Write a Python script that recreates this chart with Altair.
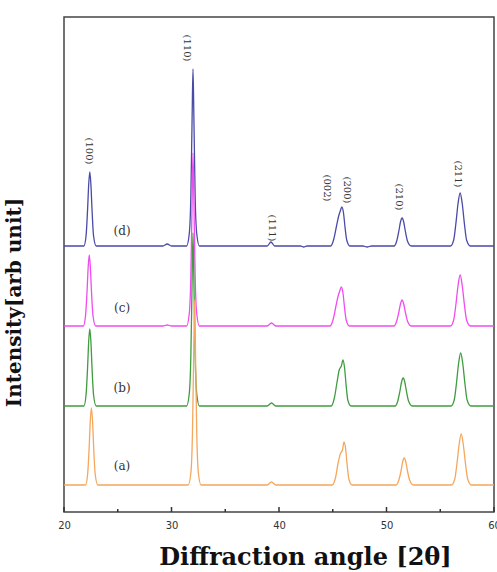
import altair as alt
import pandas as pd

# ---- data (2-theta, intensity above each baseline) ----
d_x = [20.0, 21.85, 22.05, 22.2, 22.3, 22.4, 22.5, 22.6, 22.75, 23.0, 29.2, 29.6, 30.0, 31.4, 31.65, 31.8, 31.92, 32.0, 32.08, 32.2, 32.35, 32.6, 38.9, 39.25, 39.6, 42.0, 42.3, 42.6, 44.8, 45.1, 45.35, 45.55, 45.7, 45.85, 46.0, 46.15, 46.3, 46.6, 47.8, 48.2, 48.6, 50.7, 50.95, 51.15, 51.3, 51.45, 51.6, 51.75, 51.95, 52.3, 55.95, 56.25, 56.45, 56.65, 56.85, 57.05, 57.25, 57.45, 57.8, 60.0]
d_y = [0, 0, 10, 38, 62, 74, 62, 38, 10, 0, 0, 2, 0, 0, 12, 50, 130, 177, 130, 50, 12, 0, 0, 4, 0, 0, -1, 0, 0, 7, 20, 30, 35, 39, 33, 18, 6, 0, 0, -1, 0, 0, 5, 15, 24, 28, 24, 15, 5, 0, 0, 6, 22, 42, 53, 42, 22, 6, 0, 0]

c_x = [20.0, 21.8, 22.0, 22.15, 22.25, 22.35, 22.45, 22.55, 22.7, 22.95, 29.2, 29.6, 30.0, 31.4, 31.65, 31.8, 31.92, 32.0, 32.08, 32.2, 32.35, 32.6, 38.9, 39.3, 39.7, 44.75, 45.05, 45.3, 45.5, 45.65, 45.8, 45.95, 46.1, 46.25, 46.55, 50.7, 50.95, 51.15, 51.3, 51.45, 51.6, 51.75, 51.95, 52.3, 55.95, 56.25, 56.45, 56.65, 56.85, 57.05, 57.25, 57.45, 57.8, 60.0]
c_y = [0, 0, 10, 36, 59, 71, 59, 36, 10, 0, 0, 1, 0, 0, 12, 50, 127, 173, 127, 50, 12, 0, 0, 3, 0, 0, 7, 20, 30, 35, 39, 33, 18, 6, 0, 0, 5, 14, 22, 26, 22, 14, 5, 0, 0, 6, 21, 40, 51, 40, 21, 6, 0, 0]

b_x = [20.0, 21.85, 22.05, 22.2, 22.3, 22.4, 22.5, 22.6, 22.75, 23.0, 31.4, 31.65, 31.8, 31.92, 32.0, 32.08, 32.2, 32.35, 32.6, 38.9, 39.3, 39.7, 44.85, 45.15, 45.4, 45.6, 45.8, 45.95, 46.1, 46.25, 46.4, 46.7, 50.8, 51.05, 51.25, 51.4, 51.55, 51.7, 51.85, 52.05, 52.4, 56.0, 56.3, 56.5, 56.7, 56.9, 57.1, 57.3, 57.5, 57.85, 60.0]
b_y = [0, 0, 11, 40, 65, 77, 65, 40, 11, 0, 0, 12, 50, 127, 173, 127, 50, 12, 0, 0, 3, 0, 0, 8, 24, 36, 40, 46, 38, 20, 6, 0, 0, 5, 15, 24, 28, 24, 15, 5, 0, 0, 6, 22, 42, 53, 42, 22, 6, 0, 0]

a_x = [20.0, 22.0, 22.2, 22.35, 22.45, 22.55, 22.65, 22.75, 22.9, 23.15, 31.55, 31.8, 31.95, 32.07, 32.15, 32.23, 32.35, 32.5, 32.75, 38.9, 39.3, 39.7, 44.95, 45.25, 45.5, 45.7, 45.9, 46.05, 46.2, 46.35, 46.5, 46.8, 50.9, 51.15, 51.35, 51.5, 51.65, 51.8, 51.95, 52.15, 52.5, 56.05, 56.35, 56.55, 56.75, 56.95, 57.15, 57.35, 57.55, 57.9, 60.0]
a_y = [0, 0, 11, 40, 65, 77, 65, 40, 11, 0, 0, 12, 52, 135, 185, 135, 52, 12, 0, 0, 3, 0, 0, 7, 22, 31, 35, 43, 36, 19, 6, 0, 0, 5, 14, 23, 27, 23, 14, 5, 0, 0, 6, 21, 40, 51, 40, 21, 6, 0, 0]

series_names = ["(d)", "(c)", "(b)", "(a)"]
series_offsets = [266, 186, 106, 27]
series_colors = ["#4a4aa8", "#f04cf0", "#3f9c3f", "#f5a75e"]
series_label_x = [25.4, 25.4, 25.4, 25.4]
series_label_y = [281, 204, 124, 46]

hkl_labels = ["(100)", "(110)", "(111)", "(002)", "(200)", "(210)", "(211)"]
hkl_x = [22.33, 31.44, 39.35, 44.47, 46.33, 51.16, 56.65]
hkl_y = [361, 464, 284, 324, 322, 315, 338]

major_ticks = [20, 30, 40, 50, 60]
minor_ticks = [25, 35, 45, 55]

W, H = 430, 495
xscale = alt.Scale(domain=[20, 60], nice=False, zero=False)
yscale = alt.Scale(domain=[0, 495], nice=False, zero=False)
yaxis = alt.Axis(title="Intensity[arb unit]", labels=False, ticks=False, domain=False, grid=False,
                 titleFont="DejaVu Serif", titleFontWeight="bold", titleFontSize=20,
                 titleColor="#111111", titleX=-44, titleY=285, titleBaseline="alphabetic",
                 titleAngle=270)
xaxis = alt.Axis(orient="bottom", title="Diffraction angle [2θ]", values=major_ticks, ticks=False,
                 domain=False, grid=False, labelFont="DejaVu Sans", labelFontSize=10,
                 labelColor="#333333", labelPadding=8, labelFlush=False,
                 titleFont="DejaVu Serif", titleFontWeight="bold", titleFontSize=24,
                 titleColor="#111111", titleX=241, titleY=52, titleBaseline="alphabetic")

xs_all = [d_x, c_x, b_x, a_x]
ys_all = [d_y, c_y, b_y, a_y]

layers = []
for i in range(4):
    df = pd.DataFrame({"x": xs_all[i], "y": [v + series_offsets[i] for v in ys_all[i]]})
    layers.append(
        alt.Chart(df).mark_line(color=series_colors[i], strokeWidth=1.3, interpolate="monotone").encode(
            x=alt.X("x:Q", scale=xscale, axis=xaxis),
            y=alt.Y("y:Q", scale=yscale, axis=yaxis),
        )
    )

# inward tick marks on the bottom frame
maj_df = pd.DataFrame({"t": major_ticks})
min_df = pd.DataFrame({"t": minor_ticks})
layers.append(
    alt.Chart(maj_df).mark_rule(color="#333333", strokeWidth=1.5).encode(
        x=alt.X("t:Q", scale=xscale, axis=xaxis),
        y=alt.value(H), y2=alt.value(H - 5),
    )
)
layers.append(
    alt.Chart(min_df).mark_rule(color="#333333", strokeWidth=1.5).encode(
        x=alt.X("t:Q", scale=xscale, axis=xaxis),
        y=alt.value(H), y2=alt.value(H - 3),
    )
)

lab_df = pd.DataFrame({"x": series_label_x, "y": series_label_y, "t": series_names})
layers.append(
    alt.Chart(lab_df).mark_text(font="DejaVu Serif", fontSize=12, color="#333333").encode(
        x=alt.X("x:Q", scale=xscale, axis=xaxis),
        y=alt.Y("y:Q", scale=yscale, axis=yaxis),
        text="t:N",
    )
)

hkl_df = pd.DataFrame({"x": hkl_x, "y": hkl_y, "t": hkl_labels})
layers.append(
    alt.Chart(hkl_df).mark_text(font="DejaVu Serif", fontSize=10, color="#333333", angle=90,
                                align="center", baseline="middle").encode(
        x=alt.X("x:Q", scale=xscale, axis=xaxis),
        y=alt.Y("y:Q", scale=yscale, axis=yaxis),
        text="t:N",
    )
)

chart = alt.layer(*layers).properties(
    width=W, height=H,
    autosize=alt.AutoSizeParams(type="none"),
    padding={"left": 64, "top": 17, "right": 3, "bottom": 60},
    background="white",
).configure_view(stroke="#444444", strokeWidth=1.5)

chart.save("out.html", embed_options={"renderer": "svg", "actions": False})
